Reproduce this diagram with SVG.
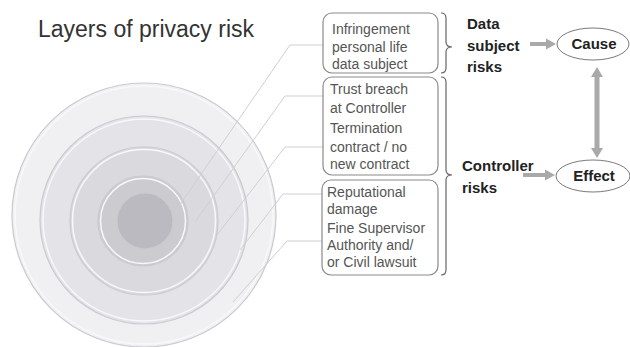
<svg xmlns="http://www.w3.org/2000/svg" width="630" height="347" viewBox="0 0 630 347">
<style>
.title{font-family:"Liberation Sans",Arial,sans-serif;font-size:23px;fill:#333}
.bt{font-family:"Liberation Sans",Arial,sans-serif;font-size:14px;fill:#555}
.lb{font-family:"Liberation Sans",Arial,sans-serif;font-size:15px;font-weight:bold;fill:#222}
.box{fill:#fff;stroke:#8a8a8a;stroke-width:1.2}
.ring{stroke:#cacacf;stroke-width:1.2}
.hl{fill:none;stroke:#f8f8fa;stroke-width:1.5}
.lead{fill:none;stroke:#cfcfd3;stroke-width:1}
.brace{fill:none;stroke:#666;stroke-width:1.2}
.ell{fill:#fff;stroke:#7a7a7a;stroke-width:1}
.barrow{fill:#a9a9a9}
</style>
<rect width="630" height="347" fill="#fff"/>
<text class="title" x="38" y="37">Layers of privacy risk</text>

<g id="rings">
  <circle class="ring" cx="144" cy="215" r="132" fill="#f0f0f2"/>
  <circle class="hl" cx="144" cy="215" r="129"/>
  <circle class="ring" cx="144" cy="220" r="104" fill="#e4e4e8"/>
  <circle class="hl" cx="144" cy="220" r="101"/>
  <circle class="ring" cx="144" cy="221" r="74" fill="#d9d9de"/>
  <circle class="hl" cx="144" cy="221" r="71.5"/>
  <circle class="ring" cx="143" cy="221" r="45" fill="#cbcbd0"/>
  <circle class="hl" cx="143" cy="221" r="42.5"/>
  <circle class="ring" cx="145" cy="221" r="28" fill="#babac0" stroke="#a9a9af"/>
</g>

<g id="connectors">
  <polyline class="lead" points="323,45 290,45 175,212"/>
  <polyline class="lead" points="323,96 285,96 195,222"/>
  <polyline class="lead" points="323,147 285,147 217,235"/>
  <polyline class="lead" points="323,194 283,194 240,250"/>
  <polyline class="lead" points="323,241 287,241 233,302"/>
  <path class="barrow" d="M530,42 L546,42 L546,38.5 L556,44 L546,49.5 L546,46 L530,46 Z"/>
  <path class="barrow" d="M523,173 L545,173 L545,169.5 L555,175 L545,180.5 L545,177 L523,177 Z"/>
  <path class="barrow" d="M597,67 L603,77 L599.5,77 L599.5,148 L603,148 L597,158 L591,148 L594.5,148 L594.5,77 L591,77 Z"/>
</g>

<g id="box1">
  <rect class="box" x="323" y="13" width="115" height="60" rx="9"/>
  <text class="bt" x="332" y="34">Infringement</text>
  <text class="bt" x="332" y="52">personal life</text>
  <text class="bt" x="332" y="69">data subject</text>
</g>
<g id="box2">
  <rect class="box" x="323" y="77" width="115" height="98" rx="9"/>
  <text class="bt" x="330" y="94">Trust breach</text>
  <text class="bt" x="330" y="113">at Controller</text>
  <text class="bt" x="330" y="133">Termination</text>
  <text class="bt" x="330" y="152">contract / no</text>
  <text class="bt" x="330" y="169">new contract</text>
</g>
<g id="box3">
  <rect class="box" x="322" y="180" width="116" height="95" rx="9"/>
  <text class="bt" x="327" y="197">Reputational</text>
  <text class="bt" x="327" y="214">damage</text>
  <text class="bt" x="327" y="233">Fine Supervisor</text>
  <text class="bt" x="327" y="250">Authority and/</text>
  <text class="bt" x="327" y="267">or Civil lawsuit</text>
</g>

<g id="brace1">
  <path class="brace" d="M441,13 Q446,13 446,18 L446,42 Q446,47 452,47 Q446,47 446,52 L446,68 Q446,73 441,73"/>
</g>
<g id="brace2">
  <path class="brace" d="M441,77 Q446,77 446,82 L446,170 Q446,175 452,175 Q446,175 446,180 L446,270 Q446,275 441,275"/>
</g>

<g id="label-data-subject">
  <text class="lb" x="467" y="29">Data</text>
  <text class="lb" x="467" y="51">subject</text>
  <text class="lb" x="467" y="72">risks</text>
</g>
<g id="label-controller">
  <text class="lb" x="462" y="171">Controller</text>
  <text class="lb" x="462" y="193">risks</text>
</g>

<g id="cause">
  <ellipse class="ell" cx="593" cy="44" rx="36" ry="16"/>
  <text class="lb" x="594" y="49" text-anchor="middle">Cause</text>
</g>
<g id="effect">
  <ellipse class="ell" cx="593" cy="176" rx="37" ry="16"/>
  <text class="lb" x="594" y="181" text-anchor="middle">Effect</text>
</g>
</svg>
